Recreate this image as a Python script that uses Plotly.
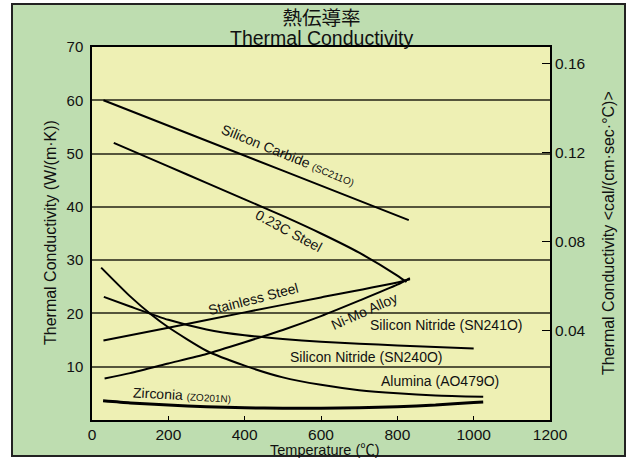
import plotly.graph_objects as go

# ---- data (temperature in °C, conductivity in W/(m·K)) ----
sic_x = [30, 500, 830]
sic_y = [60.0, 46.8, 37.5]

steel_x = [57, 200, 300, 400, 500, 600, 700, 800, 824]
steel_y = [52.0, 47.6, 44.5, 41.4, 38.3, 35.0, 31.4, 27.1, 25.9]

stainless_x = [30, 200, 400, 600, 800, 833]
stainless_y = [14.9, 17.3, 20.2, 23.0, 25.8, 26.4]

nimo_x = [33, 100, 200, 300, 400, 500, 600, 700, 800, 833]
nimo_y = [7.8, 8.8, 10.6, 12.4, 14.6, 16.9, 19.5, 22.4, 25.4, 26.6]

sn_x = [31, 100, 200, 300, 400, 500, 600, 700, 800, 900, 1000]
sn_y = [23.1, 21.3, 18.8, 17.0, 15.9, 15.2, 14.7, 14.3, 14.0, 13.7, 13.4]

alumina_x = [24, 100, 155, 200, 300, 400, 500, 600, 700, 800, 900, 1025]
alumina_y = [28.6, 23.2, 19.8, 17.4, 13.0, 10.2, 8.0, 6.6, 5.6, 5.0, 4.6, 4.35]

zirconia_x = [29, 100, 200, 300, 400, 500, 600, 700, 800, 900, 1000, 1025]
zirconia_y = [3.6, 3.2, 2.8, 2.5, 2.3, 2.2, 2.2, 2.3, 2.5, 2.8, 3.3, 3.4]

x_ticks = [0, 200, 400, 600, 800, 1000, 1200]
y_ticks = [10, 20, 30, 40, 50, 60, 70]
y2_ticks = [0.04, 0.08, 0.12, 0.16]
W_PER_CAL = 418.4  # 1 cal/(cm·s·°C) = 418.4 W/(m·K)

FONT = "Liberation Sans, Arial, 'Noto Sans CJK JP', sans-serif"
GREEN = "#BEDDB0"
YELLOW = "#EEF0B4"

W, H = 630, 458
ML, MR, MT, MB = 92, 80, 47, 38
PW, PH = W - ML - MR, H - MT - MB


def px(x):
    return (x - ML) / PW


def py(y):
    return (H - MB - y) / PH


fig = go.Figure()

series = [
    (sic_x, sic_y, 2),
    (steel_x, steel_y, 2),
    (stainless_x, stainless_y, 2),
    (nimo_x, nimo_y, 2),
    (sn_x, sn_y, 2),
    (alumina_x, alumina_y, 2),
    (zirconia_x, zirconia_y, 3),
]
for xs, ys, w in series:
    fig.add_trace(go.Scatter(x=xs, y=ys, mode="lines",
                             line=dict(color="black", width=w, shape="spline", smoothing=0.6),
                             showlegend=False, hoverinfo="skip"))

# dummy trace for right axis
fig.add_trace(go.Scatter(x=[None], y=[None], yaxis="y2", showlegend=False))

fig.update_layout(
    width=W, height=H,
    margin=dict(l=ML, r=MR, t=MT, b=MB),
    paper_bgcolor="white",
    plot_bgcolor="rgba(0,0,0,0)",
    font=dict(family=FONT, size=14, color="#111"),
    xaxis=dict(range=[0, 1200], tickvals=x_ticks, ticks="inside", ticklen=4,
               tickcolor="black", showgrid=False, zeroline=False,
               showline=True, linecolor="black", linewidth=1.5, mirror=True,
               tickfont=dict(size=15.5), ticklabelstandoff=0),
    yaxis=dict(range=[0, 70], tickvals=y_ticks, ticks="", showgrid=True,
               gridcolor="#55553c", gridwidth=1.5, zeroline=False,
               showline=True, linecolor="black", linewidth=1.5, mirror=True,
               tickfont=dict(size=15), ticklabelstandoff=4),
    yaxis2=dict(range=[0, 70 / W_PER_CAL], overlaying="y", side="right",
                tickvals=y2_ticks, tickformat=".2f", ticks="inside", ticklen=8,
                tickcolor="black", showgrid=False, zeroline=False,
                showline=False, tickfont=dict(size=15.5), ticklabelstandoff=4),
)

# green framed panel, then yellow plot area on top of it
fig.add_shape(type="rect", xref="paper", yref="paper",
              x0=px(12), x1=px(625), y0=py(456), y1=py(4),
              fillcolor=GREEN, line=dict(color="#222", width=2), layer="below")
fig.add_shape(type="rect", xref="paper", yref="paper", x0=0, x1=1, y0=0, y1=1,
              fillcolor=YELLOW, line=dict(width=0), layer="below")

# darker grid lines at 30 and 60
for yv in (30, 60):
    fig.add_shape(type="line", xref="paper", yref="y", x0=0, x1=1, y0=yv, y1=yv,
                  line=dict(color="black", width=1.5), layer="between")

small = "<span style='font-size:10px'>"
labels = [
    ("Silicon Carbide " + small + "(SC211O)</span>", 513, 49.7, 22),
    ("0.23C Steel", 516, 35.4, 28),
    ("Stainless Steel", 422, 22.7, -14.5),
    ("Ni-Mo Alloy", 715, 20.4, -24),
    ("Silicon Nitride (SN241O)", 930, 17.8, 0),
    ("Silicon Nitride (SN240O)", 720, 11.8, 0),
    ("Alumina (AO479O)", 912, 7.3, 0),
    ("Zirconia " + small + "(ZO201N)</span>", 236, 4.6, 3),
]
for txt, x, y, ang in labels:
    fig.add_annotation(x=x, y=y, xref="x", yref="y", text=txt, showarrow=False,
                       xanchor="center", yanchor="middle",
                       textangle=ang, font=dict(size=14, family=FONT, color="#111"))


def ann(text, x, y, size, family=FONT, angle=0):
    fig.add_annotation(xref="paper", yref="paper", x=px(x), y=py(y), text=text,
                       showarrow=False, xanchor="center", yanchor="middle",
                       textangle=angle, font=dict(size=size, family=family, color="#111"))


big = "<span style='font-size:19.5px'>"
ann(big + "熱伝導率</span><br>" + big + "Thermal Conductivity</span>", 321, 28, 15.5)
ann("Temperature (℃)", 325, 449.5, 14.5)
ann("Thermal Conductivity (W/(m·K))", 50, 233, 16, angle=-90)
ann("Thermal Conductivity &lt;cal/(cm·sec·°C)&gt;", 608, 233, 16, angle=-90)

fig.write_html("out.html", config={"displayModeBar": False},
               post_script="document.body.style.margin='0';document.body.style.overflow='hidden';")
